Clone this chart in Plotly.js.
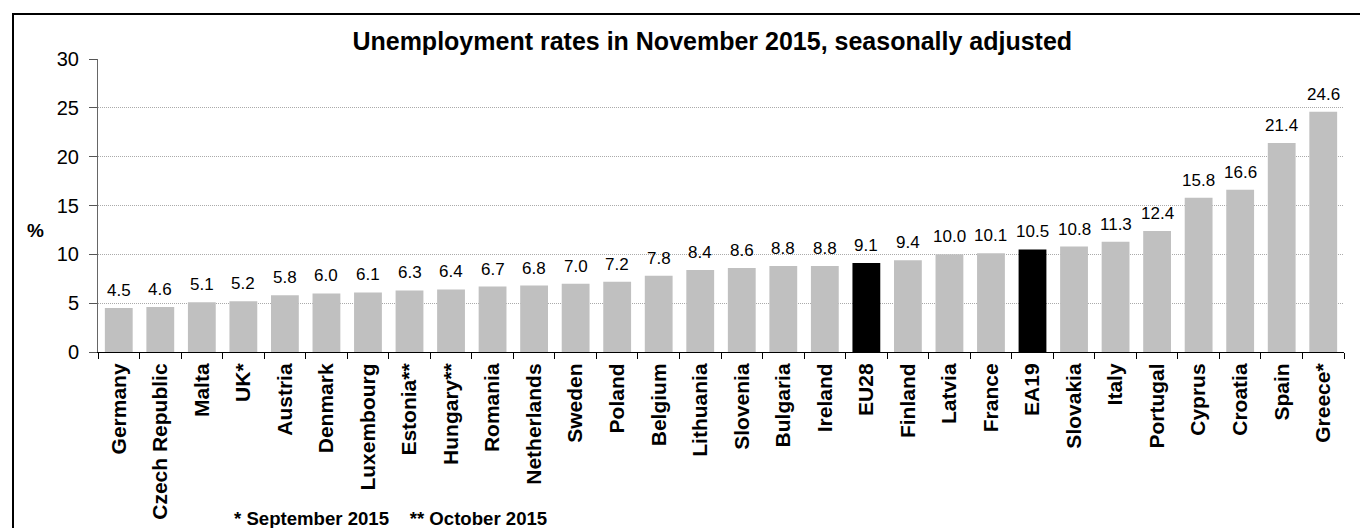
<!DOCTYPE html>
<html>
<head>
<meta charset="utf-8">
<script src="https://cdn.plot.ly/plotly-3.0.1.min.js"></script>
<style>
html,body{margin:0;padding:0;background:#fff;overflow:hidden;}
#frame{position:absolute;left:12px;top:13px;width:1400px;height:600px;border:2px solid #000;box-sizing:border-box;}
#chart{position:absolute;left:0;top:0;width:1360px;height:528px;}
</style>
</head>
<body>
<div id="frame"></div>
<div id="chart"></div>
<script>
const countries = ["Germany","Czech Republic","Malta","UK*","Austria","Denmark","Luxembourg","Estonia**","Hungary**","Romania","Netherlands","Sweden","Poland","Belgium","Lithuania","Slovenia","Bulgaria","Ireland","EU28","Finland","Latvia","France","EA19","Slovakia","Italy","Portugal","Cyprus","Croatia","Spain","Greece*"];
const rates = [4.5,4.6,5.1,5.2,5.8,6.0,6.1,6.3,6.4,6.7,6.8,7.0,7.2,7.8,8.4,8.6,8.8,8.8,9.1,9.4,10.0,10.1,10.5,10.8,11.3,12.4,15.8,16.6,21.4,24.6];
const aggregates = ["EU28","EA19"];
const yTicks = [0,5,10,15,20,25,30];

const FONT = '"Liberation Sans", Arial, sans-serif';
const colors = countries.map(c => aggregates.includes(c) ? '#000000' : '#C0C0C0');

const trace = {
  type: 'bar',
  x: countries,
  y: rates,
  marker: {color: colors, line: {width: 0}},
  hoverinfo: 'skip'
};

const valueLabels = countries.map((c, i) => ({
  x: c, y: rates[i], xref: 'x', yref: 'y',
  text: rates[i].toFixed(1),
  showarrow: false, xanchor: 'center', yanchor: 'bottom', yshift: 6,
  font: {family: FONT, size: 17, color: '#000'}
}));

const layout = {
  width: 1360, height: 528,
  margin: {l: 98, r: 16, t: 59, b: 176},
  paper_bgcolor: 'rgba(0,0,0,0)',
  plot_bgcolor: 'rgba(0,0,0,0)',
  bargap: 0.33,
  showlegend: false,
  font: {family: FONT, color: '#000'},
  title: {
    text: '<b>Unemployment rates in November 2015, seasonally adjusted</b>',
    font: {family: FONT, size: 25, color: '#000'},
    xref: 'paper', x: 0.493, xanchor: 'center',
    yref: 'container', y: 0.922, yanchor: 'middle'
  },
  xaxis: {
    type: 'category',
    tickangle: -90,
    tickfont: {family: FONT, size: 21, color: '#000'},
    tickprefix: '<b>', ticksuffix: '</b>',
    ticks: 'outside', ticklen: 6, tickcolor: '#000', tickwidth: 1,
    tickson: 'boundaries',
    showline: true, linecolor: '#000', linewidth: 1,
    showgrid: false, zeroline: false,
    range: [-0.5, countries.length - 0.5],
    ticklabelstandoff: 2
  },
  yaxis: {
    range: [0, 30],
    tickvals: yTicks,
    ticktext: yTicks.map(String),
    tickfont: {family: FONT, size: 20, color: '#000'},
    ticks: 'outside', ticklen: 8, tickcolor: '#555', tickwidth: 1,
    showline: true, linecolor: '#666', linewidth: 1,
    showgrid: true, gridcolor: '#aaa', griddash: '1px,1px', gridwidth: 1,
    zeroline: false,
    ticklabelstandoff: 6
  },
  annotations: valueLabels.concat([
    {text: '<b>%</b>', xref: 'paper', yref: 'paper', x: (35-98)/1246, y: (352-230)/293,
     xanchor: 'center', yanchor: 'middle', showarrow: false,
     font: {family: FONT, size: 19, color: '#000'}},
    {text: '<b>* September 2015    ** October 2015</b>', xref: 'paper', yref: 'paper',
     x: (232-98)/1246, y: (352-518)/293, xanchor: 'left', yanchor: 'middle', showarrow: false,
     font: {family: FONT, size: 18.6, color: '#000'}}
  ])
};

Plotly.newPlot('chart', [trace], layout, {displayModeBar: false, staticPlot: true});
</script>
</body>
</html>
